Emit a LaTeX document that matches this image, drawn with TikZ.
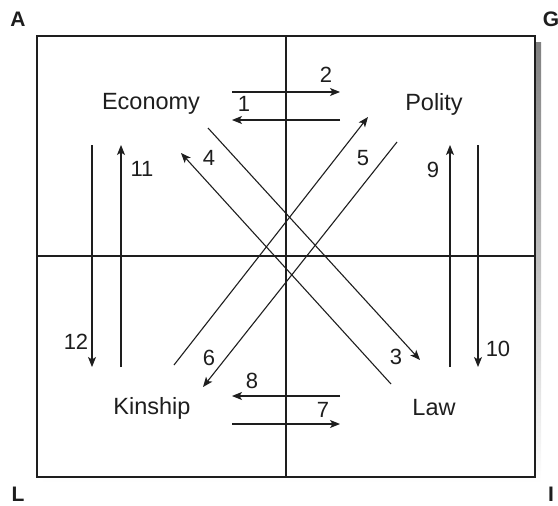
\documentclass[tikz,border=0pt]{standalone}
\usepackage{fontspec}
\setmainfont{Liberation Sans}
\usetikzlibrary{arrows.meta}
\definecolor{ink}{HTML}{1E1E1E}
\definecolor{shade}{HTML}{D6D6D6}
\tikzset{
  lab/.style={font=\fontsize{23.5}{25}\selectfont, text=ink, inner sep=0pt},
  num/.style={font=\fontsize{22}{24}\selectfont, text=ink, inner sep=0pt},
  corner/.style={font=\fontsize{21}{23}\selectfont\bfseries, text=ink, inner sep=0pt},
  arr/.style={draw=ink, line width=1.1pt, -{Stealth[length=10pt,width=8pt,inset=2.5pt]}},
  ln/.style={draw=ink, line width=1.1pt},
}
\begin{document}
\begin{tikzpicture}[x=1pt,y=-1pt]
\useasboundingbox (0,0) rectangle (558,506);
% shadow and box
\fill[shade] (43,42) rectangle (541,483);
\filldraw[fill=white, draw=ink, line width=1.1pt] (37,36) rectangle (535,477);
\coordinate (vt) at (286,36); \coordinate (vb) at (286,477);
\coordinate (hl) at (37,256); \coordinate (hr) at (535,256);
\draw[ln] (vt) -- (vb);
\draw[ln] (hl) -- (hr);
% corner letters
\node[corner] (A) at (18,19) {A};
\node[corner] (G) at (551,19) {G};
\node[corner] (L) at (18,494) {L};
\node[corner] (I) at (551,494) {I};
% main labels
\node[lab] (eco) at (151,104) {Economy};
\node[lab] (pol) at (434,104) {Polity};
\node[lab] (kin) at (152,408) {Kinship};
\node[lab] (law) at (434,408) {Law};
% horizontal arrows
\coordinate (a2s) at (232,92);  \coordinate (a2e) at (340,92);
\coordinate (a1s) at (340,120); \coordinate (a1e) at (232,120);
\coordinate (a8s) at (340,396); \coordinate (a8e) at (232,396);
\coordinate (a7s) at (232,424); \coordinate (a7e) at (340,424);
\draw[arr] (a2s) -- (a2e);
\draw[arr] (a1s) -- (a1e);
\draw[arr] (a8s) -- (a8e);
\draw[arr] (a7s) -- (a7e);
% vertical arrows
\coordinate (a12s) at (92,145);  \coordinate (a12e) at (92,367);
\coordinate (a11s) at (121,367); \coordinate (a11e) at (121,145);
\coordinate (a9s)  at (450,367); \coordinate (a9e)  at (450,145);
\coordinate (a10s) at (478,145); \coordinate (a10e) at (478,367);
\draw[arr] (a12s) -- (a12e);
\draw[arr] (a11s) -- (a11e);
\draw[arr] (a9s) -- (a9e);
\draw[arr] (a10s) -- (a10e);
% diagonal arrows
\coordinate (a3s) at (208,128); \coordinate (a3e) at (420,360);
\coordinate (a4s) at (391,384); \coordinate (a4e) at (181,153);
\coordinate (a5s) at (174,365); \coordinate (a5e) at (368,117);
\coordinate (a6s) at (397,142); \coordinate (a6e) at (203,387);
\draw[arr] (a3s) -- (a3e);
\draw[arr] (a4s) -- (a4e);
\draw[arr] (a5s) -- (a5e);
\draw[arr] (a6s) -- (a6e);
% numbers
\node[num] (n1) at (244,104) {1};
\node[num] (n2) at (326,75) {2};
\node[num] (n3) at (396,357) {3};
\node[num] (n4) at (209,158) {4};
\node[num] (n5) at (363,158) {5};
\node[num] (n6) at (209,358) {6};
\node[num] (n7) at (323,410) {7};
\node[num] (n8) at (252,381) {8};
\node[num] (n9) at (433,170) {9};
\node[num] (n10) at (498,349) {10};
\node[num] (n11) at (142,169) {11};
\node[num] (n12) at (76,342) {12};
\end{tikzpicture}
\end{document}
